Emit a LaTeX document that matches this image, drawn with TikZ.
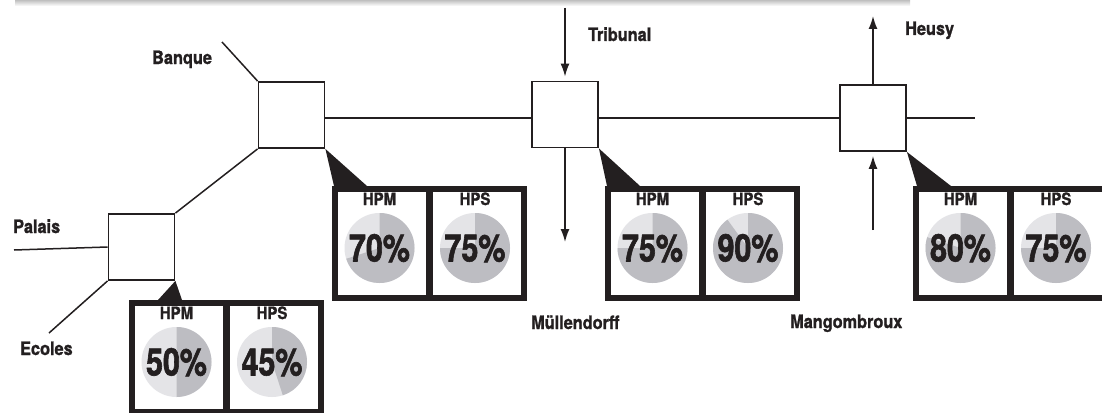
\documentclass[tikz,border=0pt]{standalone}
\usepackage{fontspec}
\setmainfont{TeX Gyre Heros}[FakeStretch=0.88, BoldFeatures={FakeBold=1.2}]
\newfontfamily\pctfont{TeX Gyre Heros}[FakeStretch=0.8, BoldFeatures={FakeBold=1.6}]
\usetikzlibrary{arrows.meta}
\definecolor{ink}{RGB}{35,31,32}
\definecolor{piedark}{RGB}{189,189,194}
\definecolor{pielight}{RGB}{228,228,231}

\begin{document}
\begin{tikzpicture}[x=1pt, y=-1pt,
  hub/.style={rectangle, draw=ink, line width=1.8pt, fill=white,
    minimum size=66pt, inner sep=0pt},
  road/.style={draw=ink, line width=1.5pt},
  arr/.style={-{Latex[length=13pt,width=9pt]}, draw=ink, line width=1.5pt},
  place/.style={font=\bfseries\fontsize{18.5}{20}\selectfont, text=ink,
    anchor=base west, inner sep=0pt},
  panelbox/.style={rectangle, draw=ink, line width=6pt, fill=white,
    minimum width=189pt, minimum height=109pt, anchor=north west, inner sep=0pt},
  hdr/.style={font=\bfseries\fontsize{17}{18}\selectfont, text=ink,
    anchor=base, inner sep=0pt},
  pct/.style={font=\pctfont\bfseries\fontsize{38}{40}\selectfont, text=ink,
    anchor=base, inner sep=0pt},
]
\useasboundingbox (0,0) rectangle (1102,412);
\clip (0,0) rectangle (1102,412);

% shadow of the box above
\shade[top color=gray!50, bottom color=white] (15,0) rectangle (910,6);

% ============================================================
% Junctions
% ============================================================
\node[hub] (banque)   at (291.5,115) {};
\node[hub] (tribunal) at (565,114.5) {};
\node[hub] (heusy)    at (873,118) {};
\node[hub] (palais)   at (141.5,247) {};

\coordinate (banqueEnd) at (222,42);
\coordinate (palaisEnd) at (14,250);
\coordinate (ecolesEnd) at (49,333);
\coordinate (eastEnd)   at (975,118);
\coordinate (tribIn)    at (565,8);
\coordinate (tribOut)   at (565,242);
\coordinate (heusyOut)  at (873,16);
\coordinate (heusyIn)   at (873,230);

\draw[road] (banqueEnd) -- (banque.north west);
\draw[road] (banque.east |- heusy.west) -- (tribunal.west |- heusy.west);
\draw[road] (tribunal.east |- heusy.west) -- (heusy.west);
\draw[road] (heusy.east) -- (eastEnd);
\draw[road] (palaisEnd) -- (palais.west);
\draw[road] (palais.south west) -- (ecolesEnd);
\draw[road] (palais.north east) -- (banque.south west);

\draw[arr, shorten >=4pt] (tribIn) -- (tribunal.north);
\draw[arr] (tribunal.south) -- (tribOut);
\draw[arr] (heusy.north) -- (heusyOut);
\draw[arr, shorten >=4pt] (heusyIn) -- (heusy.south);

% ============================================================
% Street names
% ============================================================
\node[place] (lbanque)   at (152,64)  {Banque};
\node[place] (lpalais)   at (13,233)  {Palais};
\node[place] (lecoles)   at (20,355)  {Ecoles};
\node[place] (ltribunal) at (588,41)  {Tribunal};
\node[place] (lheusy)    at (905,35)  {Heusy};
\node[place] (lmull)     at (531,329) {Müllendorff};
\node[place] (lmang)     at (790,328) {Mangombroux};

% ============================================================
% Panels: HPM / HPS
% ============================================================
\foreach \nm/\L/\T/\pa/\pb in {pal/126/297/50/45, bq/329/183/70/75,
    tr/602/183/75/90, hy/910/183/80/75}{
  \node[panelbox] (\nm) at (\L+3,\T+3) {};
  \draw[draw=ink, line width=7pt] (\nm.north) -- (\nm.south);
  \coordinate (\nm-a) at (\L+50.5,\T+65);
  \coordinate (\nm-b) at (\L+146,\T+65);
  \fill[pielight] (\nm-a) circle (35pt);
  \fill[piedark] (\nm-a) -- ++(90:35pt)
    arc[start angle=90, end angle={90-3.6*\pa}, radius=35pt] -- cycle;
  \fill[pielight] (\nm-b) circle (35pt);
  \fill[piedark] (\nm-b) -- ++(90:35pt)
    arc[start angle=90, end angle={90-3.6*\pb}, radius=35pt] -- cycle;
  \node[hdr] (\nm-hpm) at (\L+50.5,\T+22) {HPM};
  \node[hdr] (\nm-hps) at (\L+146,\T+22) {HPS};
  \node[pct] (\nm-pa) at (\L+50.5,\T+78.5) {\pa\%};
  \node[pct] (\nm-pb) at (\L+146,\T+78.5) {\pb\%};
}

% pointers from junction to panel
\fill[ink] (banque.south east) -- ([xshift=2pt]bq.north west)
  -- ([xshift=35pt]bq.north west) -- cycle;
\fill[ink] (tribunal.south east) -- ([xshift=2pt]tr.north west)
  -- ([xshift=35pt]tr.north west) -- cycle;
\fill[ink] (heusy.south east) -- ([xshift=4pt]hy.north west)
  -- ([xshift=38pt]hy.north west) -- cycle;
\fill[ink] (palais.south east) -- ([xshift=29pt]pal.north west)
  -- ([xshift=53pt]pal.north west) -- cycle;

\end{tikzpicture}
\end{document}
